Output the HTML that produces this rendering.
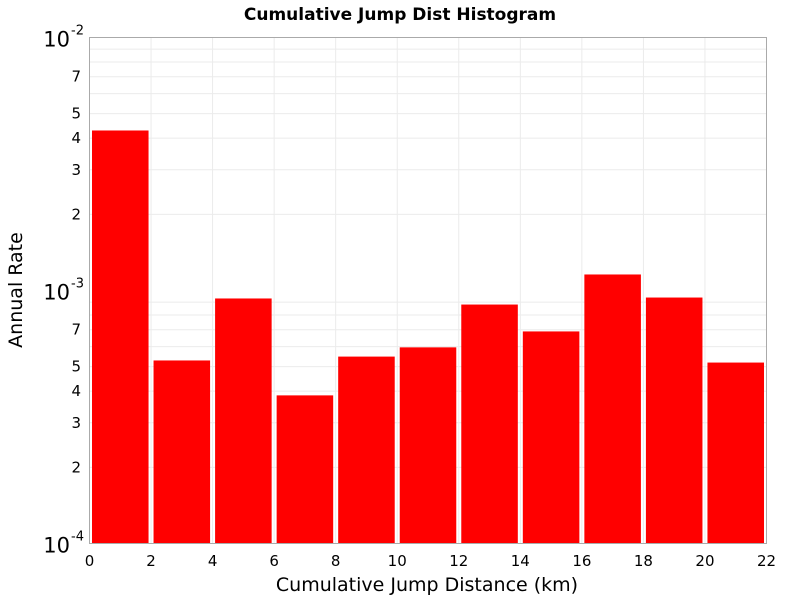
<!DOCTYPE html>
<html><head><meta charset="utf-8"><style>
body{margin:0;background:#fff;}
svg text{font-family:"DejaVu Sans","Liberation Sans",sans-serif;}
</style></head><body>
<svg id="chart" width="800" height="600" xmlns="http://www.w3.org/2000/svg">
<text x="400" y="20" text-anchor="middle" font-size="17" font-weight="bold">Cumulative Jump Dist Histogram</text>
<g id="grid"></g>
<g id="bars"></g>
<rect x="89.5" y="37.5" width="677" height="506" fill="none" stroke="#aaa"/>
<g id="yticks"></g>
<g id="xticks"></g>
<text x="427" y="591" text-anchor="middle" font-size="19">Cumulative Jump Distance (km)</text>
<text transform="translate(22,290) rotate(-90)" text-anchor="middle" font-size="19">Annual Rate</text>
</svg>
<script>
const binStarts=[0,2,4,6,8,10,12,14,16,18,20];
const rates=[4.29e-3,5.29e-4,9.3e-4,3.85e-4,5.48e-4,5.96e-4,8.8e-4,6.89e-4,1.157e-3,9.38e-4,5.19e-4];
const binWidth=2;
const xTicks=[0,2,4,6,8,10,12,14,16,18,20,22];
const yMinorLabels=[2,3,4,5,7];
const yDecades=[-4,-3,-2];
const NS="http://www.w3.org/2000/svg";
const X0=89.5,X1=766.5,Y0=543.5,Y1=37.5,xmin=0,xmax=22,lmin=-4,lmax=-2;
const xs=v=>X0+(v-xmin)/(xmax-xmin)*(X1-X0);
const ys=v=>Y0-(Math.log10(v)-lmin)/(lmax-lmin)*(Y0-Y1);
function mk(tag,attrs,parent){const e=document.createElementNS(NS,tag);for(const k in attrs)e.setAttribute(k,attrs[k]);parent.appendChild(e);return e;}
const grid=document.getElementById('grid'),bars=document.getElementById('bars'),yt=document.getElementById('yticks'),xt=document.getElementById('xticks');
for(let d=lmin;d<lmax;d++){for(let m=1;m<10;m++){const v=m*Math.pow(10,d);if(m>1){const y=ys(v);const l=mk('line',{x1:X0,x2:X1,y1:y,y2:y,stroke:'#ebebeb'},grid);

}}}
for(const t of xTicks){const x=xs(t);if(t>xmin&&t<xmax){const l=mk('line',{x1:x,x2:x,y1:Y1,y2:Y0,stroke:'#ebebeb'},grid);

}
const tx=mk('text',{x:x,y:566,'text-anchor':'middle','font-size':'15'},xt);tx.textContent=t;

}
binStarts.forEach((s,i)=>{const x=xs(s)+2.5,w=xs(s+binWidth)-xs(s)-5,y=ys(rates[i]);
const r=mk('rect',{x:x,y:y,width:w,height:Y0-y,fill:'#ff0000'},bars);

});
for(const d of yDecades){const y=ys(Math.pow(10,d));const t=mk('text',{x:70,y:y+9,'text-anchor':'end','font-size':'21'},yt);t.textContent='10';


const s=mk('text',{x:71,y:y-3,'font-size':'13'},yt);s.textContent=String(d);


if(d<lmax){for(const m of yMinorLabels){const yy=ys(m*Math.pow(10,d));const tm=mk('text',{x:81,y:yy+5,'text-anchor':'end','font-size':'15'},yt);tm.textContent=m;

}}}
</script>
</body></html>
